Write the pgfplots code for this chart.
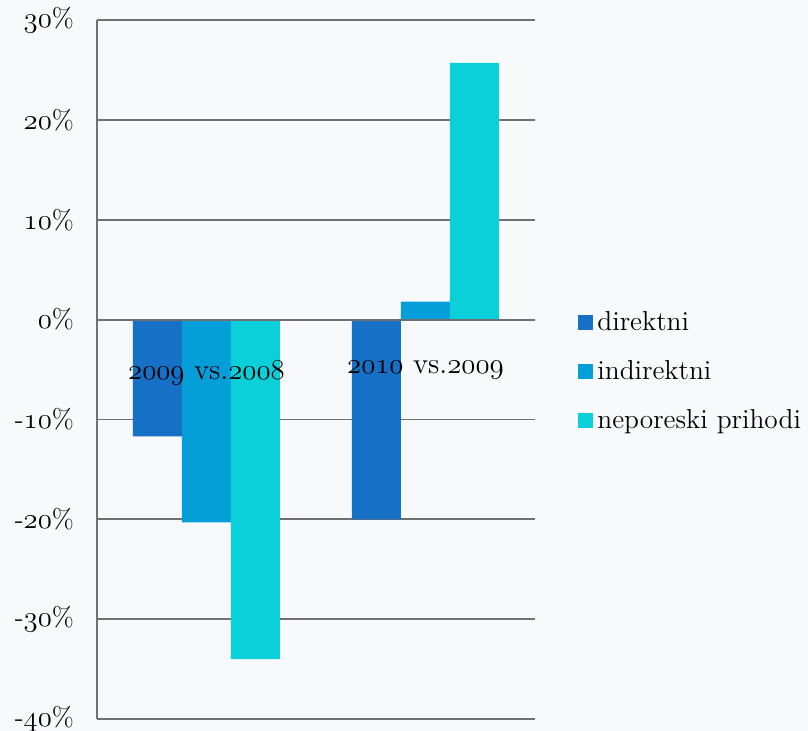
\documentclass[border=0pt]{standalone}
\usepackage{pgfplots}
\pgfplotsset{compat=1.18}
\definecolor{cA}{RGB}{21,112,198}
\definecolor{cB}{RGB}{4,159,217}
\definecolor{cC}{RGB}{11,208,217}
\definecolor{gridc}{RGB}{112,112,112}
\definecolor{bgc}{RGB}{248,249,250}
\newcommand\osn[1]{\mbox{\fontencoding{OML}\fontfamily{cmm}\fontseries{m}\fontshape{it}\selectfont #1}}
\pgfplotsset{ybar legend/.style={legend image code/.code={\fill[##1] (0pt,-3.75pt) rectangle (7.5pt,3.75pt);}}}
\pgfplotsset{common/.style={
  scale only axis, width=219pt, height=349.5pt,
  ymin=-40, ymax=30, xmin=-0.5, xmax=1.5,
  major tick length=0pt,
  tick label style={font=\fontsize{13.5}{16}\selectfont},
}}
\begin{document}
\begin{tikzpicture}
\fill[bgc] (-48.5pt,-6pt) rectangle (355.5pt,359.5pt);
\begin{axis}[
  common,
  ybar=0pt, bar width=24.5pt,
  axis x line=none, axis y line=left,
  axis line style={-, draw=gridc, line width=1pt},
  ymajorgrids, grid style={draw=gridc, line width=0.8pt},
  ytick={-40,-30,-20,-10,0,10,20,30},
  yticklabels={-\osn{40}\%,-\osn{30}\%,-\osn{20}\%,-\osn{10}\%,\osn{0}\%,\osn{10}\%,\osn{20}\%,\osn{30}\%},
  yticklabel style={xshift=-8pt},
  legend style={at={(1,0.5)}, anchor=west, xshift=18.5pt, yshift=-1pt, draw=none, fill=none,
    font=\fontsize{13.7}{16}\selectfont, row sep=9.5pt, legend cell align=left},
]
\addplot[fill=cA, draw=none] coordinates {(0,-11.7) (1,-20.0)};
\addplot[fill=cB, draw=none] coordinates {(0,-20.3) (1,1.8)};
\addplot[fill=cC, draw=none] coordinates {(0,-34.0) (1,25.7)};
\legend{direktni, indirektni, neporeski prihodi}
\end{axis}
\begin{axis}[
  common,
  axis x line=middle, axis y line=none,
  axis line style={-, draw=gridc, line width=1pt},
  xtick={0,1},
  xticklabels={\osn{2009} vs.\osn{2008}, \osn{2010} vs.\osn{2009}},
  xticklabel style={yshift=-17pt, font=\fontsize{14.6}{17}\selectfont},
]
\end{axis}
\pgfresetboundingbox
\path (-48.5pt,-6pt) rectangle (355.5pt,359.5pt);
\end{tikzpicture}
\end{document}
